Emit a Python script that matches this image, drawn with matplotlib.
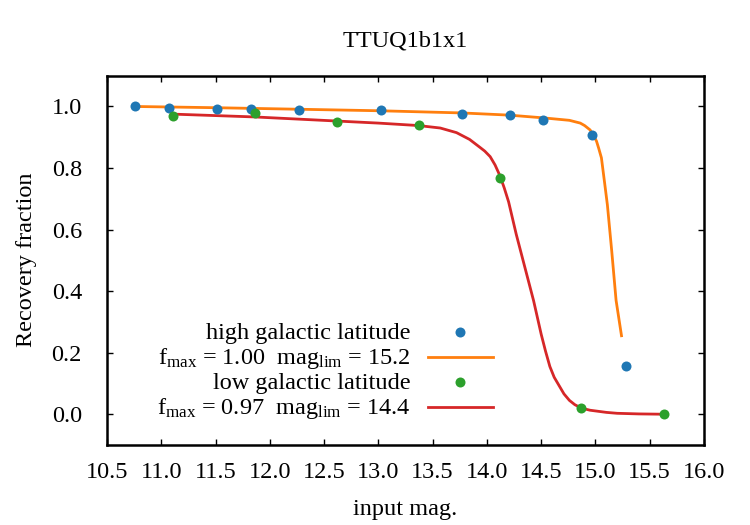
import numpy as np
import matplotlib
matplotlib.use('Agg')
import matplotlib.pyplot as plt

plt.rcParams['font.family'] = ['Liberation Serif', 'DejaVu Serif']
plt.rcParams['mathtext.fontset'] = 'custom'
plt.rcParams['mathtext.rm'] = 'Liberation Serif'
plt.rcParams['mathtext.it'] = 'Liberation Serif:italic'

# high galactic latitude (measured points)
hi_mag = [10.76, 11.07, 11.51, 11.83, 12.27, 13.02, 13.77, 14.21, 14.52, 14.97, 15.28]
hi_frac = [1.000, 0.996, 0.992, 0.993, 0.989, 0.988, 0.977, 0.973, 0.957, 0.906, 0.156]
# low galactic latitude (measured points)
lo_mag = [11.11, 11.86, 12.62, 13.37, 14.12, 14.87, 15.63]
lo_frac = [0.969, 0.979, 0.949, 0.940, 0.769, 0.020, 0.000]

# fitted curves
hi_fit_mag = [10.76, 11.5, 12.27, 13.02, 13.77, 14.2, 14.52, 14.76, 14.86, 14.9, 14.95,
              14.98, 15.01, 15.03, 15.055, 15.085, 15.11, 15.15, 15.19, 15.24]
hi_fit_frac = [1.0, 0.996, 0.991, 0.986, 0.979, 0.972, 0.963, 0.955, 0.946, 0.938, 0.924,
               0.908, 0.887, 0.864, 0.833, 0.75, 0.68, 0.53, 0.37, 0.255]
lo_fit_mag = [11.12, 11.86, 12.6, 13.0, 13.37, 13.57, 13.72, 13.84, 13.94, 13.98, 14.03,
              14.075, 14.12, 14.16, 14.2, 14.27, 14.35, 14.43, 14.5, 14.54, 14.58, 14.62,
              14.67, 14.71, 14.76, 14.81, 14.87, 14.95, 15.1, 15.2, 15.4, 15.63]
lo_fit_frac = [0.975, 0.966, 0.953, 0.946, 0.938, 0.930, 0.915, 0.893, 0.866, 0.855, 0.837,
               0.81, 0.775, 0.735, 0.69, 0.585, 0.477, 0.369, 0.26, 0.205, 0.155, 0.12,
               0.09, 0.066, 0.045, 0.031, 0.02, 0.013, 0.006, 0.003, 0.001, 0.0]

labels = ['high galactic latitude',
          r'f$_{\rm max}$ = 1.00  mag$_{\rm lim}$ = 15.2',
          'low galactic latitude',
          r'f$_{\rm max}$ = 0.97  mag$_{\rm lim}$ = 14.4']

c_hi, c_hifit = '#1f77b4', '#ff7f0e'
c_lo, c_lofit = '#2ca02c', '#d62728'
fs = 17.5

fig = plt.figure(figsize=(7.5, 5.25), dpi=100)
ax = fig.add_axes([107/750, 1-445/525, 597/750, 369.3/525])

ax.plot(hi_fit_mag, hi_fit_frac, color=c_hifit, lw=2, zorder=2)
ax.plot(lo_fit_mag, lo_fit_frac, color=c_lofit, lw=2, zorder=2)
ax.plot(hi_mag, hi_frac, 'o', color=c_hi, ms=7.2, mew=0, zorder=3)
ax.plot(lo_mag, lo_frac, 'o', color=c_lo, ms=7.2, mew=0, zorder=3)

ax.set_xlim(10.5, 16.0)
ax.set_ylim(-0.1, 1.1)
ax.set_xticks(np.arange(10.5, 16.01, 0.5))
ax.set_yticks(np.arange(0.0, 1.01, 0.2))
ax.xaxis.set_major_formatter(matplotlib.ticker.FormatStrFormatter('%.1f'))
ax.yaxis.set_major_formatter(matplotlib.ticker.FormatStrFormatter('%.1f'))
ax.tick_params(direction='in', length=4.5, width=1, top=True, right=True, labelsize=fs)
ax.tick_params(axis='x', pad=12)
ax.tick_params(axis='y', pad=18)
for sp in ax.spines.values():
    sp.set_linewidth(1.8)

# gnuplot style key, text on the left, sample on the right
rows = [0.305, 0.2375, 0.170, 0.102]
for i, (lab, row) in enumerate(zip(labels, rows)):
    ax.text(0.509, row - 0.019, lab, transform=ax.transAxes, ha='right', va='baseline', fontsize=fs)
    if i == 0:
        ax.plot([0.591], [row], 'o', color=c_hi, ms=7.2, mew=0, transform=ax.transAxes, clip_on=False)
    elif i == 1:
        ax.plot([0.538, 0.647], [row, row], color=c_hifit, lw=2, transform=ax.transAxes)
    elif i == 2:
        ax.plot([0.591], [row], 'o', color=c_lo, ms=7.2, mew=0, transform=ax.transAxes, clip_on=False)
    else:
        ax.plot([0.538, 0.647], [row, row], color=c_lofit, lw=2, transform=ax.transAxes)

fig.text(405.5/750, 1-46.7/525, 'TTUQ1b1x1', ha='center', va='baseline', fontsize=fs)
fig.text(405.5/750, 1-515.5/525, 'input mag.', ha='center', va='baseline', fontsize=fs)
fig.text(27/750, 1-260/525, 'Recovery fraction', ha='center', va='center', rotation=90, fontsize=fs)

fig.savefig('out.png', dpi=100)
